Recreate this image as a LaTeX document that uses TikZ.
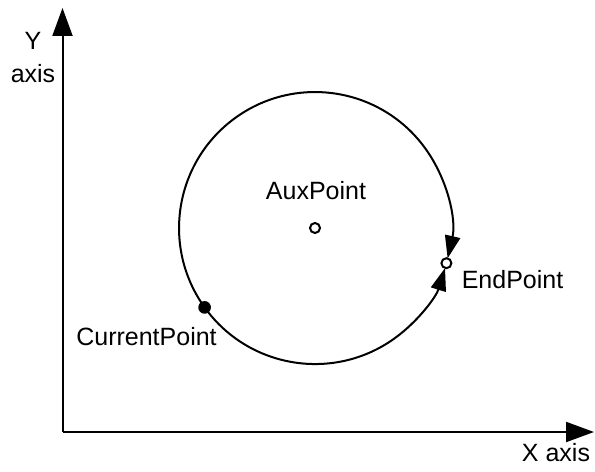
\documentclass[tikz,border=0pt]{standalone}
\usepackage{fontspec}
\setmainfont{Liberation Sans}
\usetikzlibrary{arrows.meta}

\begin{document}
\begin{tikzpicture}[x=0.75pt, y=0.75pt, line width=1.5pt,
  font=\fontsize{18.75}{24.75}\selectfont,
  axis/.style={-{Triangle[length=21pt, width=15pt]}},
  path/.style={-{Triangle[length=17pt, width=11.5pt]}},
  openpt/.style={circle, draw, fill=white, inner sep=0pt, minimum size=7.5pt},
  fullpt/.style={circle, fill, inner sep=0pt, minimum size=9.5pt}]
\useasboundingbox (0,0) rectangle (595,471);
% axes
\coordinate (origin) at (62.5,39);
\coordinate (ytip) at (62.5,463);
\coordinate (xtip) at (594,39);
\draw[axis] (origin) -- (ytip);
\draw[axis] (origin) -- (xtip);
\node[align=center] (ylabel) at (33,413) {Y\\axis};
\node (xlabel) at (556,18) {X axis};
% circle path
\node[fullpt] (cur) at (204.6,163.6) {};
\draw[path] (cur.center) arc[start angle=215.7, end angle=-12.9, radius=136];
\draw[path] (cur.center) arc[start angle=215.7, end angle=342.9, radius=136];
\node[openpt] (aux) at (315,243) {};
\node[openpt] (endpt) at (446.4,207.8) {};
\node (auxlabel) at (316,280) {AuxPoint};
\node (endlabel) at (512.5,191) {EndPoint};
\node (curlabel) at (146.5,134.5) {CurrentPoint};
\end{tikzpicture}
\end{document}
